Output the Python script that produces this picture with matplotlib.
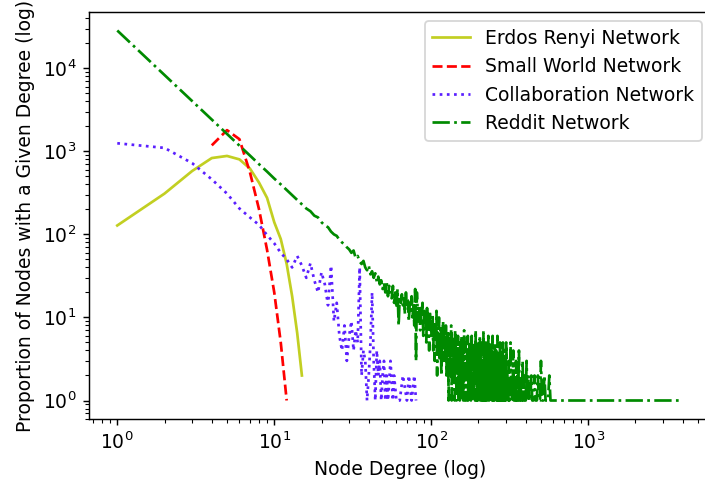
import matplotlib
matplotlib.use("Agg")
import matplotlib.pyplot as plt

# ---------------- data ----------------
er_degree = [1, 2, 3, 4, 5, 6, 7, 8, 9, 10, 11, 12, 13, 14, 15]
er_count = [128, 310, 580, 830, 880, 800, 620, 420, 275, 140, 88, 44, 18, 6.5, 2]

sw_degree = [4, 5, 6, 7, 8, 9, 10, 11, 12]
sw_count = [1180, 1800, 1400, 560, 200, 65, 20, 5, 1]

collab_degree = [1, 2, 3, 4, 5, 6, 7, 8, 9, 10, 11,
                 12, 13, 14, 15, 16, 17, 18, 19, 20, 21, 22, 23, 24, 25,
                 26, 27, 28, 29, 30, 31, 32, 33, 34, 35, 36, 37, 38, 39,
                 40, 41, 42, 43, 44, 45, 46, 47, 48, 49, 50, 51, 52, 53,
                 55, 57, 58, 60, 63, 66, 70, 72, 75, 78, 80]
collab_count = [1250, 1100, 720, 460, 310, 205, 160, 130, 98, 78, 60,
                50, 40, 55, 42, 30, 45, 28, 20, 35, 25, 14, 42, 9, 15,
                6, 4, 8, 3, 6, 9, 4, 7, 5, 40, 2, 4, 3, 1,
                2, 5, 20, 3, 1, 4, 2, 3, 1, 2, 3, 1, 2, 1,
                3, 1, 2, 1, 1, 2, 1, 2, 1, 2, 1]

reddit_head_degree = list(range(1, 151))
reddit_head_count = [
    28500, 8300, 4030, 2420, 1630, 1170, 890, 700, 570, 470,
    400, 342, 296, 260, 230, 205, 190, 168, 160, 140,
    128, 122, 108, 100, 96, 86, 80, 76, 70, 66,
    60, 64, 52, 55, 47, 44, 48, 40, 37, 42,
    33, 36, 30, 34, 27, 31, 25, 28, 22, 26,
    20, 27, 18, 24, 21, 17, 24, 15, 20, 13,
    22, 8, 18, 15, 19, 14, 17, 11, 20, 13,
    16, 9, 15, 12, 18, 10, 14, 8, 22, 3,
    20, 12, 9, 14, 7, 13, 10, 15, 6, 12,
    9, 11, 5, 13, 8, 10, 4, 12, 7, 9,
    6, 11, 4, 8, 3, 9, 6, 12, 2, 7,
    5, 10, 3, 6, 8, 2, 7, 4, 9, 3,
    6, 5, 3, 8, 2, 6, 4, 7, 1, 5,
    3, 6, 2, 8, 1, 4, 5, 2, 6, 3,
    1, 7, 3, 4, 1, 5, 2, 6, 1, 3]

reddit_mid_degree = list(range(151, 301))
reddit_mid_count = [
    4, 1, 5, 2, 3, 6, 1, 2, 4, 1, 3, 7, 2, 1, 5, 2, 3, 1, 4, 2, 6, 1, 3, 2, 5,
    1, 2, 4, 1, 3, 6, 2, 1, 2, 5, 1, 3, 2, 4, 1, 1, 7, 2, 3, 1, 4, 2, 1, 5, 2,
    3, 1, 2, 6, 1, 4, 2, 1, 3, 1, 5, 2, 1, 3, 7, 1, 2, 4, 1, 2, 3, 1, 5, 1, 2,
    4, 1, 2, 3, 1, 6, 2, 1, 1, 4, 2, 1, 3, 5, 1, 2, 1, 4, 1, 2, 6, 1, 3, 1, 2,
    1, 3, 1, 5, 2, 1, 2, 1, 4, 1, 3, 1, 2, 6, 1, 1, 2, 3, 1, 4, 1, 2, 1, 5, 1,
    2, 1, 3, 1, 1, 4, 2, 1, 2, 1, 5, 1, 3, 1, 1, 2, 4, 1, 2, 1, 1, 3, 1, 2, 5]

reddit_tail_degree = [310, 312, 315, 318, 320, 323, 326, 330, 333, 336, 340,
                      344, 347, 350, 355, 358, 362, 366, 370, 374, 378, 382,
                      386, 390, 395, 400, 405, 410, 416, 422, 428, 434, 440,
                      447, 455, 462, 470, 478, 485, 493, 500, 508, 517, 526,
                      535, 545, 555, 565, 575, 590,
                      620, 700, 820, 950, 1200, 1500, 1900, 2400, 3100, 4000]
reddit_tail_count = [1, 3, 1, 2, 5, 1, 2, 1, 4, 1, 2,
                     1, 3, 1, 2, 1, 4, 1, 2, 1, 1, 3,
                     1, 2, 1, 1, 3, 1, 2, 1, 1, 2, 1,
                     1, 2, 1, 1, 2, 1, 1, 3, 1, 1, 2,
                     1, 1, 1, 2, 1, 1,
                     1, 1, 1, 1, 1, 1, 1, 1, 1, 1]

reddit_degree = reddit_head_degree + reddit_mid_degree + reddit_tail_degree
reddit_count = reddit_head_count + reddit_mid_count + reddit_tail_count

labels = ["Erdos Renyi Network", "Small World Network",
          "Collaboration Network", "Reddit Network"]
title_text = "Network Degree Distributions (log-log)"

# ---------------- figure ----------------
plt.rcParams['font.family'] = ['DejaVu Sans']
plt.rcParams['font.size'] = 10.4
DPI = 130
W, H = 705, 483
fig = plt.figure(figsize=(W / DPI, H / DPI), dpi=DPI)
left, right, top, bottom = 89, 711, 12, 419
ax = fig.add_axes([left / W, 1 - bottom / H, (right - left) / W, (bottom - top) / H])

ax.plot(er_degree, er_count, '-', color='#c2cf22', label=labels[0])
ax.plot(sw_degree, sw_count, '--', color='red', label=labels[1])
ax.plot(collab_degree, collab_count, ':', color='#5a1fff', label=labels[2])
ax.plot(reddit_degree, reddit_count, '-.', color='#008a00', label=labels[3])

ax.set_xscale('log')
ax.set_yscale('log')
ax.set_xlabel('Node Degree (log)')
ax.set_ylabel('Proportion of Nodes with a Given Degree (log)')
ax.legend(loc='upper right')

# title sits above the (cropped) top edge; only its lowest strokes show
fig.text((left + right) / 2 / W, 1 + 6 / H, title_text, ha='center',
         va='baseline', fontsize=12)

fig.savefig('out.png', dpi=DPI)
